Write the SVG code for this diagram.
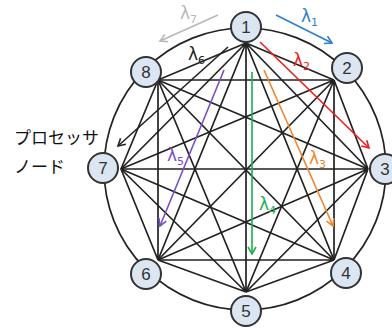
<svg xmlns="http://www.w3.org/2000/svg" width="392" height="328" viewBox="0 0 392 328">
<style>
.ring{fill:none;stroke:#222;stroke-width:1.7}
.e{stroke:#222;stroke-width:1.7;fill:none}
.node circle{fill:#dce6f2;stroke:#333;stroke-width:2}
.node text{font-family:"Liberation Sans",Arial,sans-serif;font-size:17px;fill:#333;text-anchor:middle;dominant-baseline:central}
.lam{font-family:"DejaVu Sans","Liberation Sans",sans-serif;font-size:17px}
.sub{font-size:11px}
.jp{font-family:"Noto Sans CJK JP",sans-serif;font-size:17px;fill:#111}
</style>
<defs>
<marker id="aBlue" markerWidth="10" markerHeight="10" refX="8" refY="5" orient="auto" markerUnits="userSpaceOnUse"><path d="M1,1 L8,5 L1,9" fill="none" stroke="#2e7fc9" stroke-width="1.6"/></marker>
<marker id="aRed" markerWidth="10" markerHeight="10" refX="8" refY="5" orient="auto" markerUnits="userSpaceOnUse"><path d="M1,1 L8,5 L1,9" fill="none" stroke="#f01c1c" stroke-width="1.6"/></marker>
<marker id="aOr" markerWidth="10" markerHeight="10" refX="8" refY="5" orient="auto" markerUnits="userSpaceOnUse"><path d="M1,1 L8,5 L1,9" fill="none" stroke="#f0852d" stroke-width="1.6"/></marker>
<marker id="aGr" markerWidth="10" markerHeight="10" refX="8" refY="5" orient="auto" markerUnits="userSpaceOnUse"><path d="M1,1 L8,5 L1,9" fill="none" stroke="#1cb04b" stroke-width="1.6"/></marker>
<marker id="aPu" markerWidth="10" markerHeight="10" refX="8" refY="5" orient="auto" markerUnits="userSpaceOnUse"><path d="M1,1 L8,5 L1,9" fill="none" stroke="#7a4fc4" stroke-width="1.6"/></marker>
<marker id="aBk" markerWidth="10" markerHeight="10" refX="8" refY="5" orient="auto" markerUnits="userSpaceOnUse"><path d="M1,1 L8,5 L1,9" fill="none" stroke="#222" stroke-width="1.6"/></marker>
<marker id="aGy" markerWidth="10" markerHeight="10" refX="8" refY="5" orient="auto" markerUnits="userSpaceOnUse"><path d="M1,1 L8,5 L1,9" fill="none" stroke="#b8b8b8" stroke-width="1.6"/></marker>
</defs>
<rect width="392" height="328" fill="#fff"/>
<circle class="ring" cx="245" cy="169" r="141"/>
<g id="connectors">
<path class="e" d="M246,43L334,80 M246,43L368,169 M246,43L334,260 M246,43L246,292 M246,43L158,260 M246,43L121,169 M246,43L158,80"/>
<path class="e" d="M334,80L368,169 M334,80L334,260 M334,80L246,292 M334,80L158,260 M334,80L121,169 M334,80L158,80"/>
<path class="e" d="M368,169L334,260 M368,169L246,292 M368,169L158,260 M368,169L121,169 M368,169L158,80"/>
<path class="e" d="M334,260L246,292 M334,260L158,260 M334,260L121,169 M334,260L158,80"/>
<path class="e" d="M246,292L158,260 M246,292L121,169 M246,292L158,80"/>
<path class="e" d="M158,260L121,169 M158,260L158,80"/>
<path class="e" d="M121,169L158,80"/>
</g>
<g id="wavelengths">
<line x1="276" y1="15" x2="332" y2="43" stroke="#2e7fc9" stroke-width="1.6" marker-end="url(#aBlue)"/>
<line x1="260" y1="42" x2="369" y2="148" stroke="#f01c1c" stroke-width="1.6" marker-end="url(#aRed)"/>
<line x1="264" y1="70" x2="333" y2="226" stroke="#f0852d" stroke-width="1.6" marker-end="url(#aOr)"/>
<line x1="252" y1="72" x2="252" y2="254" stroke="#1cb04b" stroke-width="1.6" marker-end="url(#aGr)"/>
<line x1="224" y1="70" x2="160" y2="226" stroke="#7a4fc4" stroke-width="1.6" marker-end="url(#aPu)"/>
<line x1="228" y1="47" x2="118" y2="146" stroke="#222" stroke-width="1.6" marker-end="url(#aBk)"/>
<line x1="218" y1="15" x2="160" y2="41" stroke="#b8b8b8" stroke-width="1.6" marker-end="url(#aGy)"/>
<text class="lam" x="301" y="22" fill="#2e7fc9">λ<tspan class="sub" dy="4">1</tspan></text>
<text class="lam" x="293" y="66" fill="#f01c1c">λ<tspan class="sub" dy="4">2</tspan></text>
<text class="lam" x="309" y="164" fill="#f0852d">λ<tspan class="sub" dy="4">3</tspan></text>
<text class="lam" x="259" y="210" fill="#1cb04b">λ<tspan class="sub" dy="4">4</tspan></text>
<text class="lam" x="167" y="161" fill="#7a4fc4">λ<tspan class="sub" dy="4">5</tspan></text>
<text class="lam" x="188" y="60" fill="#222">λ<tspan class="sub" dy="4">6</tspan></text>
<text class="lam" x="180" y="19" fill="#b8b8b8">λ<tspan class="sub" dy="4">7</tspan></text>
</g>
<g id="n1" class="node"><circle cx="246" cy="27" r="15"/><text x="246" y="27">1</text></g>
<g id="n2" class="node"><circle cx="347" cy="68" r="15"/><text x="347" y="68">2</text></g>
<g id="n3" class="node"><circle cx="385" cy="169" r="15"/><text x="385" y="169">3</text></g>
<g id="n4" class="node"><circle cx="346" cy="273" r="15"/><text x="346" y="273">4</text></g>
<g id="n5" class="node"><circle cx="246" cy="311" r="15"/><text x="246" y="311">5</text></g>
<g id="n6" class="node"><circle cx="146" cy="274" r="15"/><text x="146" y="274">6</text></g>
<g id="n7" class="node"><circle cx="103" cy="168" r="15"/><text x="103" y="168">7</text></g>
<g id="n8" class="node"><circle cx="146" cy="72" r="15"/><text x="146" y="72">8</text></g>
<g id="label">
<text class="jp" x="14" y="144">プロセッサ</text>
<text class="jp" x="14" y="173">ノード</text>
</g>
</svg>
